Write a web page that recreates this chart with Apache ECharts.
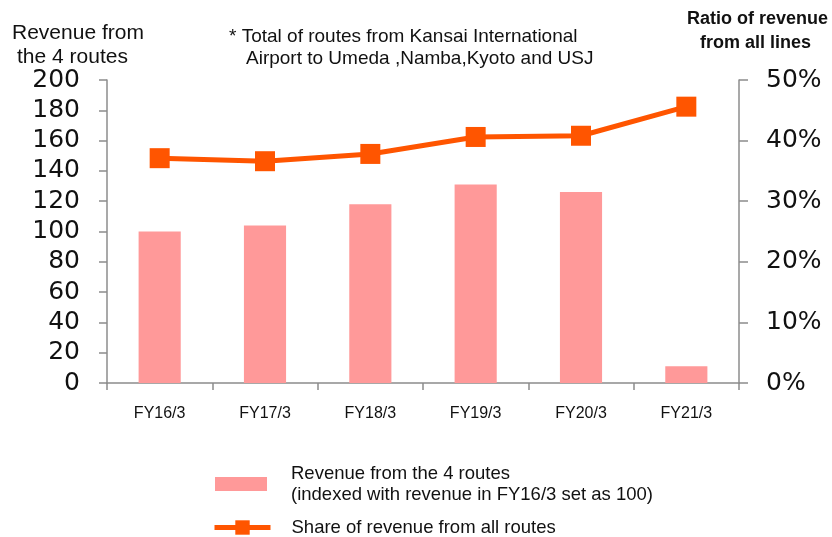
<!DOCTYPE html>
<html>
<head>
<meta charset="utf-8">
<script src="https://cdn.jsdelivr.net/npm/echarts@6/dist/echarts.min.js"></script>
<style>
  html, body { margin: 0; padding: 0; background: #fff; }
  #chart { width: 832px; height: 537px; }
</style>
</head>
<body>
<div id="chart"></div>
<script>
// Fiscal years
const categories = ['FY16/3', 'FY17/3', 'FY18/3', 'FY19/3', 'FY20/3', 'FY21/3'];
// Revenue from the 4 airport routes, indexed to FY16/3 = 100
const revenueIndex = [100, 104, 118, 131, 126, 11];
// Share of revenue from all routes (%)
const revenueShare = [37.1, 36.6, 37.8, 40.6, 40.8, 45.6];
// Axis tick values
const leftTicks = [0, 20, 40, 60, 80, 100, 120, 140, 160, 180, 200];
const rightTicks = [0, 10, 20, 30, 40, 50];

const barName = 'Revenue from the 4 routes\n(indexed with revenue in FY16/3 set as 100)';
const lineName = 'Share of revenue from all routes';

const axisGray = '#8c8c8c';
const sans = '"Liberation Sans", Arial, sans-serif';
const chart = echarts.init(document.getElementById('chart'));

chart.setOption({
  animation: false,
  grid: { left: 107, right: 93, top: 80, bottom: 154 },
  legend: [
    {
      data: [barName],
      left: 215, top: 463,
      padding: 0,
      icon: 'rect',
      itemWidth: 52, itemHeight: 14,
      textStyle: { fontFamily: sans, fontSize: 18.5, color: '#111', lineHeight: 21, padding: [0, 0, 0, 19] },
      selectedMode: false
    },
    {
      data: [lineName],
      left: 212, top: 518,
      padding: 0,
      itemWidth: 56, itemHeight: 18,
      lineStyle: { width: 5, color: '#ff5500' },
      textStyle: { fontFamily: sans, fontSize: 18.5, color: '#111', padding: [0, 0, 0, 16] },
      selectedMode: false
    }
  ],
  xAxis: {
    type: 'category',
    data: categories,
    boundaryGap: true,
    axisLine: { lineStyle: { color: axisGray, width: 1.5 } },
    axisTick: { show: true, length: 7, lineStyle: { color: axisGray, width: 1.5 } },
    axisLabel: { margin: 23, fontFamily: sans, fontSize: 16, color: '#111' }
  },
  yAxis: [
    {
      type: 'value',
      min: leftTicks[0], max: leftTicks[leftTicks.length - 1], interval: leftTicks[1] - leftTicks[0],
      position: 'left',
      splitLine: { show: false },
      axisLine: { show: true, lineStyle: { color: axisGray, width: 1.5 } },
      axisTick: { show: true, length: 8, lineStyle: { color: axisGray, width: 1.5 } },
      axisLabel: { margin: 27, fontFamily: 'DejaVu Sans, Verdana, sans-serif', fontSize: 25, color: '#111' }
    },
    {
      type: 'value',
      min: rightTicks[0], max: rightTicks[rightTicks.length - 1], interval: rightTicks[1] - rightTicks[0],
      position: 'right',
      splitLine: { show: false },
      axisLine: { show: true, lineStyle: { color: axisGray, width: 1.5 } },
      axisTick: { show: true, length: 9, lineStyle: { color: axisGray, width: 1.5 } },
      axisLabel: { margin: 27, formatter: '{value}%', fontFamily: 'DejaVu Sans, Verdana, sans-serif', fontSize: 25, color: '#111' }
    }
  ],
  series: [
    {
      name: barName,
      type: 'bar',
      yAxisIndex: 0,
      data: revenueIndex,
      barWidth: '40%',
      itemStyle: { color: '#ff9999' }
    },
    {
      name: lineName,
      type: 'line',
      yAxisIndex: 1,
      data: revenueShare,
      symbol: 'rect',
      symbolSize: 20,
      lineStyle: { color: '#ff5500', width: 5 },
      itemStyle: { color: '#ff5500' }
    }
  ],
  graphic: [
    {
      type: 'text', left: 12, top: 23,
      style: { text: 'Revenue from', font: '21px ' + sans, fill: '#111' }
    },
    {
      type: 'text', left: 17, top: 47,
      style: { text: 'the 4 routes', font: '21px ' + sans, fill: '#111' }
    },
    {
      type: 'text', left: 229, top: 27,
      style: { text: '* Total of routes from Kansai International', font: '19px ' + sans, fill: '#111' }
    },
    {
      type: 'text', left: 246, top: 49,
      style: { text: 'Airport to Umeda ,Namba,Kyoto and USJ', font: '19px ' + sans, fill: '#111' }
    },
    {
      type: 'text', left: 687, top: 10,
      style: { text: 'Ratio of revenue', font: 'bold 18px ' + sans, fill: '#111' }
    },
    {
      type: 'text', left: 700, top: 34,
      style: { text: 'from all lines', font: 'bold 18px ' + sans, fill: '#111' }
    }
  ]
});
</script>
</body>
</html>
